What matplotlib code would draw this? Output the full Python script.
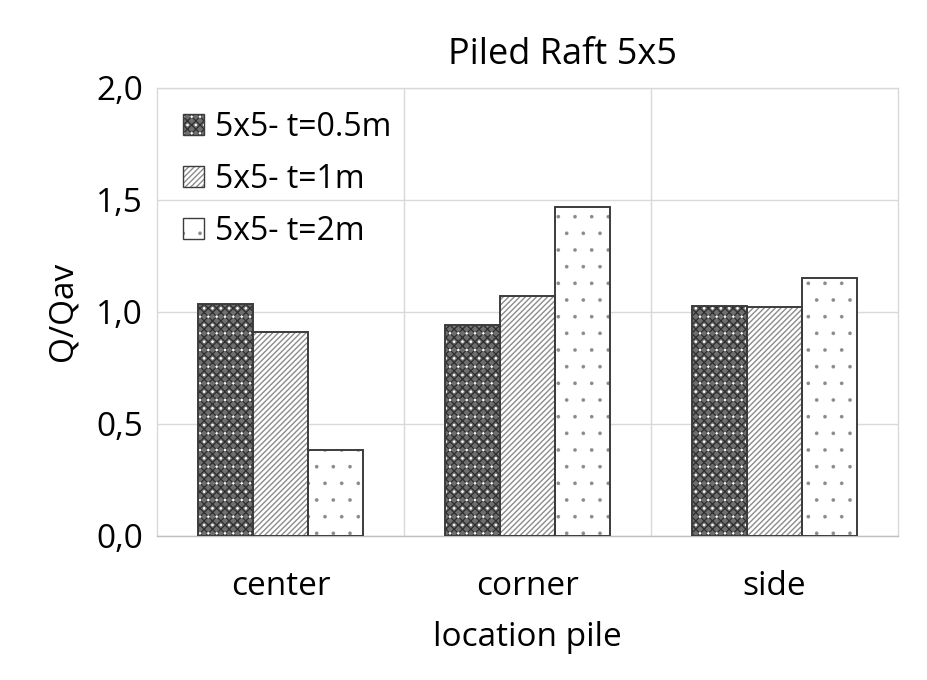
import matplotlib
matplotlib.use("Agg")
import matplotlib.pyplot as plt
import numpy as np
from matplotlib.ticker import FuncFormatter, FixedLocator
from matplotlib.patches import Rectangle
from matplotlib.legend_handler import HandlerBase

categories = ["center", "corner", "side"]
series_names = ["5x5- t=0.5m", "5x5- t=1m", "5x5- t=2m"]
values_05 = [1.034, 0.943, 1.028]
values_1 = [0.910, 1.072, 1.022]
values_2 = [0.384, 1.470, 1.152]
yticks = [0.0, 0.5, 1.0, 1.5, 2.0]

plt.rcParams['font.family'] = ['Open Sans', 'DejaVu Sans']

fig = plt.figure(figsize=(9.28, 6.8), dpi=100)
ax = fig.add_axes([157/928, (680-535.7)/680, (898-157)/928, (535.7-88)/680])

x = np.arange(len(categories))
w = 0.222
# each style: list of hatch layers (face, hatch, hatch color, hatch lw)
styles = [
    [('#6e6e6e', 'xxxx', '#2e2e2e', 0.9), ('none', '..', 'white', 0.6)],
    [('white', '//////', '#8c8c8c', 1.0)],
    [('white', '.', '#8a8a8a', 0.2)],
]
series = [values_05, values_1, values_2]

def hatched(xy, wd, ht, layers, lw_edge):
    patches = []
    for face, hatch, hcol, hlw in layers:
        plt.rcParams['hatch.linewidth'] = hlw
        p = Rectangle(xy, wd, ht, facecolor=face, edgecolor=hcol, hatch=hatch,
                      linewidth=0)
        patches.append(p)
    plt.rcParams['hatch.linewidth'] = 1.0
    outline = Rectangle(xy, wd, ht, fill=False, edgecolor='#3c3c3c', linewidth=lw_edge)
    patches.append(outline)
    return patches

for i, (vals, layers) in enumerate(zip(series, styles)):
    pos = x + (i - 1) * w
    for xp, v in zip(pos, vals):
        for k, p in enumerate(hatched((xp - w/2, 0), w, v, layers, 1.4)):
            p.set_zorder(2 + k)
            ax.add_patch(p)

class HatchHandler(HandlerBase):
    def __init__(self, layers):
        super().__init__()
        self.layers = layers
    def create_artists(self, legend, orig_handle, xdescent, ydescent, width, height, fontsize, trans):
        s = min(width, height)
        x0 = -xdescent + (width - s) / 2
        y0 = -ydescent + (height - s) / 2
        ps = hatched((x0, y0), s, s, self.layers, 1.0)
        for p in ps:
            p.set_transform(trans)
        return ps

proxies = [Rectangle((0, 0), 1, 1) for _ in series_names]

ax.set_xlim(-0.5, 2.5)
ax.set_ylim(0, 2.0)
ax.yaxis.set_major_locator(FixedLocator(yticks))
ax.yaxis.set_major_formatter(FuncFormatter(lambda v, p: f"{v:.1f}".replace('.', ',')))
ax.set_xticks(x)
ax.set_xticklabels(categories)
ax.xaxis.set_minor_locator(FixedLocator([0.5, 1.5]))
ax.grid(axis='y', which='major', color='#d9d9d9', linewidth=1.0, zorder=0)
ax.grid(axis='x', which='minor', color='#d9d9d9', linewidth=1.0, zorder=0)
ax.set_axisbelow(True)
ax.tick_params(axis='both', which='both', length=0, labelsize=24, colors='black')
ax.tick_params(axis='x', pad=25)
ax.tick_params(axis='y', pad=10)
for s in ax.spines.values():
    s.set_color('#d9d9d9')
    s.set_linewidth(1.0)
ax.spines['bottom'].set_color('#bfbfbf')

ax.set_xlabel("location pile", fontsize=24, labelpad=13)
ax.set_ylabel("Q/Qav", fontsize=24, labelpad=12)

leg = ax.legend(proxies, series_names, loc='upper left', frameon=False,
                fontsize=23, handlelength=0.65, handleheight=0.65,
                handletextpad=0.35, labelspacing=0.6, borderaxespad=0,
                bbox_to_anchor=(0.0185, 0.978),
                handler_map={proxies[i]: HatchHandler(styles[i]) for i in range(3)})

fig.text(562/928, 1 - 55/680, "Piled Raft 5x5", fontsize=26, ha='center', va='center')

fig.savefig("out.png", dpi=100)
